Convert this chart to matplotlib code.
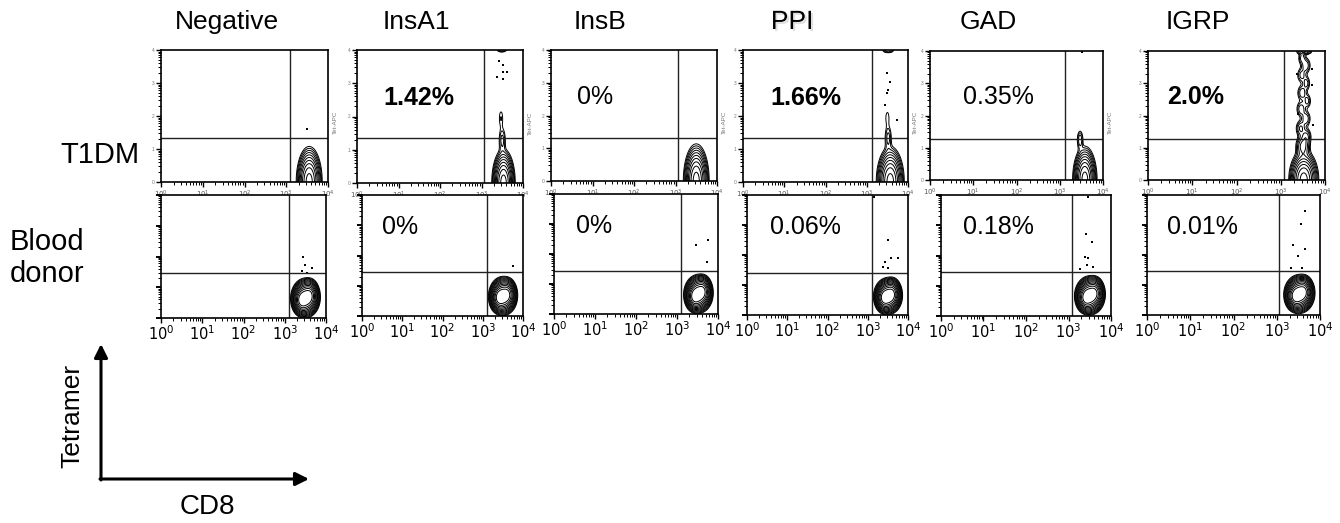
import numpy as np
import matplotlib
matplotlib.use("Agg")
import matplotlib.pyplot as plt
from matplotlib.ticker import FixedLocator, LogLocator, NullFormatter
import matplotlib.patheffects as pe

plt.rcParams['font.family'] = ['Liberation Sans', 'DejaVu Sans']

# ---------------------------------------------------------------- data
antigens = ["Negative", "InsA1", "InsB", "PPI", "GAD", "IGRP"]
groups = ["T1DM", "Blood\ndonor"]

pct_t1dm = ["", "1.42%", "0%", "1.66%", "0.35%", "2.0%"]
pct_donor = ["", "0%", "0%", "0.06%", "0.18%", "0.01%"]
bold_t1dm = [False, True, False, True, False, True]

# quadrant gates (log10 of fluorescence)
gate_cd8_t1dm = [3.09, 3.06, 3.06, 3.13, 3.12, 3.07]
gate_tet_t1dm = [1.32, 1.34, 1.31, 1.33, 1.27, 1.27]
gate_cd8_donor = [3.10, 3.11, 3.10, 3.10, 3.08, 3.05]
gate_tet_donor = [1.46, 1.45, 1.43, 1.40, 1.45, 1.47]

# event clusters: (log CD8, log tetramer, spread CD8, spread tetramer, weight)
clusters_t1dm = [
    [(3.55, 0.0, 0.11, 0.38, 1.0)],
    [(3.53, 0.0, 0.10, 0.36, 1.0), (3.50, 1.30, 0.05, 0.22, 0.05),
     (3.47, 1.95, 0.04, 0.20, 0.028), (3.49, 4.00, 0.07, 0.04, 0.06)],
    [(3.50, 0.0, 0.11, 0.40, 1.0)],
    [(3.57, 0.0, 0.12, 0.38, 1.0), (3.52, 1.35, 0.05, 0.22, 0.05),
     (3.50, 1.95, 0.04, 0.18, 0.026), (3.52, 3.98, 0.08, 0.04, 0.06)],
    [(3.58, 0.0, 0.10, 0.37, 1.0), (3.47, 1.25, 0.04, 0.17, 0.06)],
    [(3.52, 0.0, 0.12, 0.33, 1.0), (3.50, 1.05, 0.08, 0.18, 0.12),
     (3.58, 1.35, 0.06, 0.14, 0.07), (3.45, 1.60, 0.06, 0.14, 0.07),
     (3.57, 1.90, 0.06, 0.14, 0.06), (3.46, 2.20, 0.06, 0.14, 0.06),
     (3.60, 2.45, 0.05, 0.13, 0.05), (3.48, 2.70, 0.06, 0.14, 0.06),
     (3.58, 3.00, 0.05, 0.13, 0.05), (3.47, 3.25, 0.06, 0.14, 0.05),
     (3.57, 3.55, 0.06, 0.14, 0.06), (3.48, 3.78, 0.05, 0.12, 0.05),
     (3.53, 3.98, 0.09, 0.05, 0.10)],
]
clusters_donor = [
    [(3.50, 0.65, 0.12, 0.22, 1.0), (3.40, 0.55, 0.08, 0.17, 0.45),
     (3.62, 0.75, 0.08, 0.19, 0.40)],
    [(3.50, 0.66, 0.12, 0.22, 1.0), (3.40, 0.58, 0.08, 0.17, 0.45),
     (3.63, 0.72, 0.08, 0.19, 0.40)],
    [(3.52, 0.67, 0.12, 0.22, 1.0), (3.42, 0.55, 0.08, 0.17, 0.45),
     (3.64, 0.78, 0.08, 0.19, 0.40)],
    [(3.50, 0.63, 0.12, 0.21, 1.0), (3.40, 0.55, 0.08, 0.17, 0.45),
     (3.62, 0.72, 0.08, 0.19, 0.40)],
    [(3.50, 0.68, 0.12, 0.22, 1.0), (3.40, 0.58, 0.08, 0.17, 0.45),
     (3.63, 0.78, 0.08, 0.19, 0.40)],
    [(3.52, 0.70, 0.12, 0.22, 1.0), (3.42, 0.60, 0.08, 0.17, 0.45),
     (3.64, 0.80, 0.08, 0.19, 0.40)],
]

# single events outside the main clusters (log CD8, log tetramer)
dots_t1dm = [
    [(3.50, 1.60)],
    [(3.42, 3.67), (3.52, 3.55), (3.52, 3.34), (3.61, 3.34), (3.37, 3.19), (3.52, 3.13)],
    [],
    [(3.49, 3.30), (3.56, 3.03), (3.52, 2.79), (3.49, 2.70), (3.73, 1.88), (3.44, 2.33)],
    [(3.51, 3.97)],
    [(3.70, 2.95), (3.36, 3.30), (3.72, 1.70), (3.38, 2.05), (3.70, 3.45)],
]
dots_donor = [
    [(3.44, 1.98), (3.49, 1.72), (3.66, 1.63), (3.42, 1.53), (3.54, 1.46)],
    [(3.75, 1.65)],
    [(3.46, 2.30), (3.76, 2.47), (3.73, 1.73)],
    [(3.50, 2.50), (3.58, 1.90), (3.75, 1.90), (3.43, 1.77), (3.38, 1.60),
     (3.50, 1.57), (3.16, 3.93)],
    [(3.46, 3.93), (3.41, 2.71), (3.55, 2.45), (3.39, 1.95), (3.46, 1.92),
     (3.58, 1.62), (3.27, 1.55), (3.44, 1.69)],
    [(3.65, 3.47), (3.56, 3.03), (3.38, 2.33), (3.65, 2.20), (3.49, 1.97),
     (3.33, 1.57), (3.58, 1.57)],
]

# ---------------------------------------------------------------- layout (pixels)
W, H = 1340, 523
rect_t1dm = [(161, 328, 50, 182), (357, 523, 50, 183), (551, 717, 50, 181),
             (743, 908, 50, 182), (930, 1103, 51, 180), (1148, 1325, 51, 180)]
rect_donor = [(161, 326, 195, 318), (362, 523, 195, 316), (554, 718, 194, 314),
              (747, 908, 195, 315), (941, 1111, 195, 316), (1147, 1320, 195, 315)]
pct_x_t1dm = [0.16, 0.157, 0.157, 0.164, 0.19, 0.107]
pct_x_donor = [0.13, 0.124, 0.134, 0.143, 0.13, 0.116]
header_x = [227, 416, 600, 792, 988, 1198]

fig = plt.figure(figsize=(W / 100, H / 100), dpi=100)

gx = np.linspace(0, 4, 400)
gy = np.linspace(0, 4, 400)
GX, GY = np.meshgrid(gx, gy)


def density(clusters):
    z = np.zeros_like(GX)
    for cx, cy, sx, sy, w in clusters:
        z += w * np.exp(-0.5 * (((GX - cx) / sx) ** 2 + ((GY - cy) / sy) ** 2))
    return z / z.max()


def panel(rect, clusters, dots, gx_c, gy_t, levels, top_row):
    l, r, t, b = rect
    ax = fig.add_axes([l / W, 1 - b / H, (r - l) / W, (b - t) / H])
    ax.set_xscale('log')
    ax.set_yscale('log')
    ax.set_xlim(1, 1e4)
    ax.set_ylim(1, 1e4)
    z = density(clusters)
    ax.contour(10 ** GX, 10 ** GY, z, levels=levels, colors='black',
               linewidths=0.7)
    if dots:
        d = np.array(dots)
        ax.scatter(10 ** d[:, 0], 10 ** d[:, 1], s=1.5, c='black', marker='s',
                   linewidths=0)
    ax.axvline(10 ** gx_c, color='#222222', lw=1.0)
    ax.axhline(10 ** gy_t, color='#222222', lw=1.0)
    for s in ax.spines.values():
        s.set_linewidth(1.2)
    majors = [1, 10, 100, 1000, 10000]
    ax.xaxis.set_major_locator(FixedLocator(majors))
    ax.yaxis.set_major_locator(FixedLocator(majors))
    ax.xaxis.set_minor_locator(LogLocator(base=10, subs=np.arange(2, 10), numticks=20))
    ax.yaxis.set_minor_locator(LogLocator(base=10, subs=np.arange(2, 10), numticks=20))
    ax.xaxis.set_minor_formatter(NullFormatter())
    ax.yaxis.set_minor_formatter(NullFormatter())
    ax.set_xticklabels([r'$10^{%d}$' % k for k in range(5)])
    ax.tick_params(which='major', length=3.5, width=1.0, pad=1)
    ax.tick_params(which='minor', length=2, width=0.7)
    if top_row:
        ax.tick_params(axis='x', labelsize=5, labelcolor='#555555')
        ax.set_yticklabels([str(k) for k in range(5)])
        ax.tick_params(axis='y', labelsize=3.5, labelcolor='#777777')
    else:
        ax.tick_params(axis='x', labelsize=10.5)
        ax.tick_params(axis='y', labelleft=False, width=1.4)
    return ax


lev_t1dm = np.geomspace(0.018, 0.8, 10)
lev_donor = np.geomspace(0.01, 0.55, 12)

for i in range(6):
    ax = panel(rect_t1dm[i], clusters_t1dm[i], dots_t1dm[i],
               gate_cd8_t1dm[i], gate_tet_t1dm[i], lev_t1dm, True)
    if pct_t1dm[i]:
        ax.text(pct_x_t1dm[i], 0.64, pct_t1dm[i], transform=ax.transAxes,
                fontsize=18, fontweight='bold' if bold_t1dm[i] else 'normal',
                ha='left', va='center')
    if i < 5:
        ax.text(1.03, 0.45, "Tet-APC", transform=ax.transAxes, rotation=90,
                fontsize=4.5, color='#777777', ha='left', va='center')

for i in range(6):
    ax = panel(rect_donor[i], clusters_donor[i], dots_donor[i],
               gate_cd8_donor[i], gate_tet_donor[i], lev_donor, False)
    if pct_donor[i]:
        ax.text(pct_x_donor[i], 0.735, pct_donor[i], transform=ax.transAxes,
                fontsize=18, ha='left', va='center')

# headers, row labels and axis key in pixel coordinates
ov = fig.add_axes([0, 0, 1, 1])
ov.set_xlim(0, W)
ov.set_ylim(H, 0)
ov.axis('off')
ov.patch.set_alpha(0)

for i, name in enumerate(antigens):
    t = ov.text(header_x[i], 22, name, fontsize=19, ha='center', va='center')
    if name == "PPI":
        t.set_path_effects([pe.SimplePatchShadow(offset=(1.5, -1.5), alpha=0.12),
                            pe.Normal()])

ov.text(60, 155, groups[0], fontsize=21, ha='left', va='center')
ov.text(10, 258, groups[1], fontsize=21, ha='left', va='center',
        linespacing=1.2)

ax_kw = dict(arrowstyle='-|>', lw=2.2, color='black', mutation_scale=20,
             shrinkA=0, shrinkB=0)
ov.annotate('', xy=(101, 344), xytext=(101, 480), arrowprops=ax_kw)
ov.annotate('', xy=(309, 479), xytext=(100, 479), arrowprops=ax_kw)
ov.text(72, 416, "Tetramer", fontsize=19, rotation=90, ha='center', va='center')
ov.text(207, 507, "CD8", fontsize=20, ha='center', va='center')

fig.savefig("out.png", dpi=100)
